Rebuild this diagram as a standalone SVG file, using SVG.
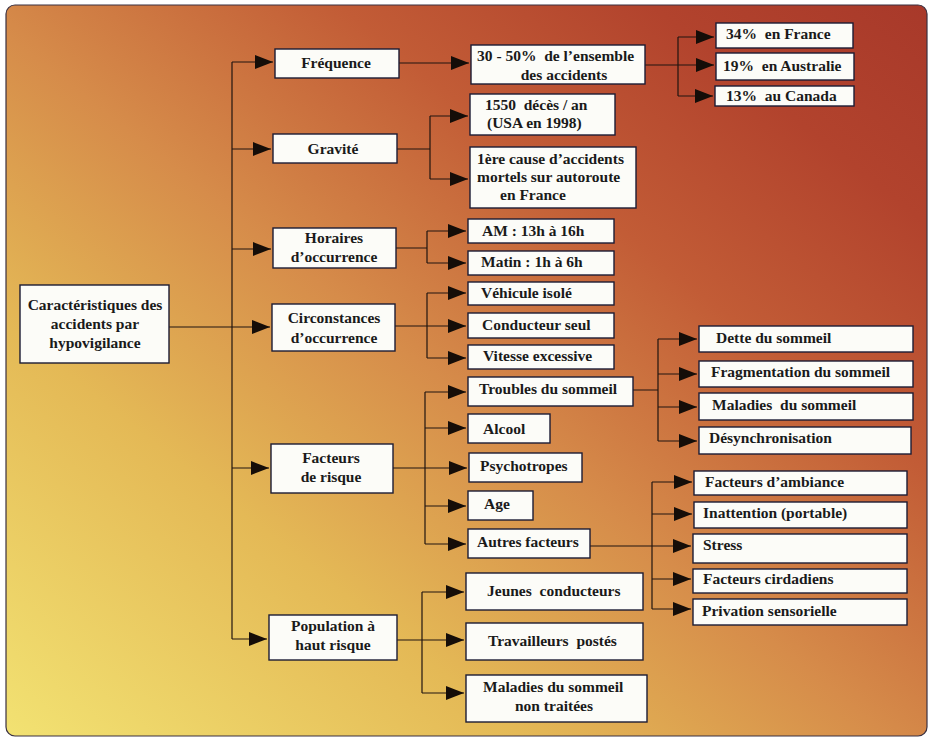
<svg xmlns="http://www.w3.org/2000/svg" width="928" height="738" viewBox="0 0 928 738">
<defs>
<linearGradient id="bg" x1="0" y1="1" x2="1" y2="0">
<stop offset="0" stop-color="#f2e272"/>
<stop offset="0.28" stop-color="#e4b956"/>
<stop offset="0.48" stop-color="#d68c4a"/>
<stop offset="0.68" stop-color="#c25c36"/>
<stop offset="0.85" stop-color="#b2432d"/>
<stop offset="1" stop-color="#a8392a"/>
</linearGradient>
<marker id="ah" markerUnits="userSpaceOnUse" markerWidth="18" markerHeight="14" refX="18" refY="7" orient="auto">
<path d="M0,0 L18,7 L0,14 Z" fill="#150d08"/>
</marker>
<style>
.box{fill:#fcfcf8;stroke:#1c1c34;stroke-width:1.4}
text{font-family:"Liberation Serif","Times New Roman",serif;font-weight:bold;font-size:15.5px;fill:#1a1a1a;white-space:pre}
.c{text-anchor:middle}
.ln{fill:none;stroke:#201510;stroke-width:1.2}
.ar{fill:none;stroke:#201510;stroke-width:1.2;marker-end:url(#ah)}
</style>
</defs>
<rect x="0" y="0" width="928" height="738" fill="#ffffff"/>
<rect x="6" y="5" width="921" height="731" rx="9" fill="url(#bg)" stroke="#3a3040" stroke-width="1.2"/>

<g id="connectors">
<path class="ln" d="M232,62 V639"/>
<path class="ar" d="M232,62 H273"/>
<path class="ar" d="M232,149 H271"/>
<path class="ar" d="M232,249 H271"/>
<path class="ar" d="M169,327 H270"/>
<path class="ar" d="M232,468 H269"/>
<path class="ar" d="M232,639 H267"/>

<path class="ar" d="M399,63 H469"/>

<path class="ln" d="M645,65 H678 M678,37 V96"/>
<path class="ar" d="M678,37 H714"/>
<path class="ar" d="M678,65 H714"/>
<path class="ar" d="M678,96 H713"/>

<path class="ln" d="M397,149 H430 M430,116 V179"/>
<path class="ar" d="M430,116 H468"/>
<path class="ar" d="M430,179 H468"/>

<path class="ln" d="M396,248 H427 M427,231 V263"/>
<path class="ar" d="M427,231 H466"/>
<path class="ar" d="M427,263 H466"/>

<path class="ln" d="M427,293 V358"/>
<path class="ar" d="M427,293 H466"/>
<path class="ar" d="M395,326 H466"/>
<path class="ar" d="M427,358 H466"/>

<path class="ln" d="M425,392 V544"/>
<path class="ar" d="M425,392 H466"/>
<path class="ar" d="M425,428 H466"/>
<path class="ar" d="M393,468 H467"/>
<path class="ar" d="M425,506 H466"/>
<path class="ar" d="M425,544 H466"/>

<path class="ln" d="M633,390 H658 M658,339 V441"/>
<path class="ar" d="M658,339 H697"/>
<path class="ar" d="M658,374 H697"/>
<path class="ar" d="M658,407 H697"/>
<path class="ar" d="M658,441 H697"/>

<path class="ln" d="M652,482 V609"/>
<path class="ar" d="M652,482 H692"/>
<path class="ar" d="M652,514 H692"/>
<path class="ar" d="M590,546 H691"/>
<path class="ar" d="M652,579 H691"/>
<path class="ar" d="M652,609 H691"/>

<path class="ln" d="M422,592 V693"/>
<path class="ar" d="M422,592 H464"/>
<path class="ar" d="M397,640 H464"/>
<path class="ar" d="M422,693 H464"/>
</g>

<g id="root">
<rect class="box" x="20" y="285" width="149" height="78"/>
<text class="c" x="95" y="310">Caractéristiques des</text>
<text class="c" x="95" y="329">accidents par</text>
<text class="c" x="95" y="348">hypovigilance</text>
</g>

<g id="frequence">
<rect class="box" x="275" y="49" width="124" height="29"/>
<text class="c" x="336" y="68">Fréquence</text>
</g>
<g id="gravite">
<rect class="box" x="273" y="134" width="124" height="29"/>
<text class="c" x="333" y="154">Gravité</text>
</g>
<g id="horaires">
<rect class="box" x="273" y="228" width="123" height="40"/>
<text class="c" x="334" y="243">Horaires</text>
<text class="c" x="334" y="262">d’occurrence</text>
</g>
<g id="circonstances">
<rect class="box" x="272" y="304" width="123" height="47"/>
<text class="c" x="334" y="323">Circonstances</text>
<text class="c" x="334" y="343">d’occurrence</text>
</g>
<g id="facteurs">
<rect class="box" x="271" y="444" width="122" height="49"/>
<text class="c" x="331" y="463">Facteurs</text>
<text class="c" x="331" y="482">de risque</text>
</g>
<g id="population">
<rect class="box" x="269" y="615" width="128" height="45"/>
<text class="c" x="333" y="631">Population à</text>
<text class="c" x="333" y="650">haut risque</text>
</g>

<g id="ensemble">
<rect class="box" x="471" y="45" width="174" height="39"/>
<text x="477" y="61">30 - 50%  de l’ensemble</text>
<text class="c" x="564" y="80">des accidents</text>
</g>
<g id="france34">
<rect class="box" x="716" y="23" width="137" height="25"/>
<text x="726" y="39">34%  en France</text>
</g>
<g id="australie19">
<rect class="box" x="716" y="53" width="138" height="27"/>
<text x="723" y="71">19%  en Australie</text>
</g>
<g id="canada13">
<rect class="box" x="715" y="86" width="139" height="20"/>
<text x="726" y="101">13%  au Canada</text>
</g>

<g id="deces">
<rect class="box" x="470" y="94" width="145" height="41"/>
<text x="485" y="110">1550  décès / an</text>
<text x="487" y="128">(USA en 1998)</text>
</g>
<g id="cause">
<rect class="box" x="470" y="147" width="166" height="61"/>
<text x="477" y="164">1ère cause d’accidents</text>
<text x="477" y="182">mortels sur autoroute</text>
<text x="500" y="200">en France</text>
</g>

<g id="am">
<rect class="box" x="468" y="219" width="146" height="24"/>
<text x="482" y="236">AM : 13h à 16h</text>
</g>
<g id="matin">
<rect class="box" x="468" y="251" width="146" height="24"/>
<text x="481" y="267">Matin : 1h à 6h</text>
</g>

<g id="vehicule">
<rect class="box" x="468" y="282" width="146" height="23"/>
<text x="481" y="298">Véhicule isolé</text>
</g>
<g id="conducteur">
<rect class="box" x="468" y="313" width="146" height="25"/>
<text x="482" y="330">Conducteur seul</text>
</g>
<g id="vitesse">
<rect class="box" x="468" y="345" width="146" height="24"/>
<text x="483" y="361">Vitesse excessive</text>
</g>

<g id="troubles">
<rect class="box" x="468" y="377" width="165" height="29"/>
<text x="479" y="394">Troubles du sommeil</text>
</g>
<g id="alcool">
<rect class="box" x="468" y="414" width="82" height="29"/>
<text x="483" y="434">Alcool</text>
</g>
<g id="psychotropes">
<rect class="box" x="469" y="453" width="113" height="29"/>
<text x="480" y="471">Psychotropes</text>
</g>
<g id="age">
<rect class="box" x="468" y="491" width="65" height="29"/>
<text x="484" y="509">Age</text>
</g>
<g id="autres">
<rect class="box" x="468" y="529" width="122" height="29"/>
<text x="477" y="547">Autres facteurs</text>
</g>

<g id="dette">
<rect class="box" x="699" y="326" width="214" height="26"/>
<text x="716" y="343">Dette du sommeil</text>
</g>
<g id="fragmentation">
<rect class="box" x="699" y="361" width="214" height="26"/>
<text x="711" y="377">Fragmentation du sommeil</text>
</g>
<g id="maladies">
<rect class="box" x="699" y="393" width="214" height="27"/>
<text x="712" y="410">Maladies  du sommeil</text>
</g>
<g id="desynchronisation">
<rect class="box" x="699" y="427" width="212" height="27"/>
<text x="709" y="443">Désynchronisation</text>
</g>

<g id="ambiance">
<rect class="box" x="694" y="471" width="213" height="24"/>
<text x="705" y="487">Facteurs d’ambiance</text>
</g>
<g id="inattention">
<rect class="box" x="694" y="502" width="213" height="26"/>
<text x="703" y="518">Inattention (portable)</text>
</g>
<g id="stress">
<rect class="box" x="693" y="534" width="214" height="29"/>
<text x="703" y="550">Stress</text>
</g>
<g id="circadiens">
<rect class="box" x="693" y="569" width="214" height="24"/>
<text x="703" y="584">Facteurs cirdadiens</text>
</g>
<g id="privation">
<rect class="box" x="693" y="599" width="214" height="26"/>
<text x="702" y="616">Privation sensorielle</text>
</g>

<g id="jeunes">
<rect class="box" x="466" y="573" width="177" height="37"/>
<text x="487" y="596">Jeunes  conducteurs</text>
</g>
<g id="travailleurs">
<rect class="box" x="466" y="623" width="177" height="37"/>
<text x="488" y="646">Travailleurs  postés</text>
</g>
<g id="maladies-nt">
<rect class="box" x="466" y="675" width="181" height="47"/>
<text x="483" y="692">Maladies du sommeil</text>
<text x="515" y="711">non traitées</text>
</g>
</svg>
